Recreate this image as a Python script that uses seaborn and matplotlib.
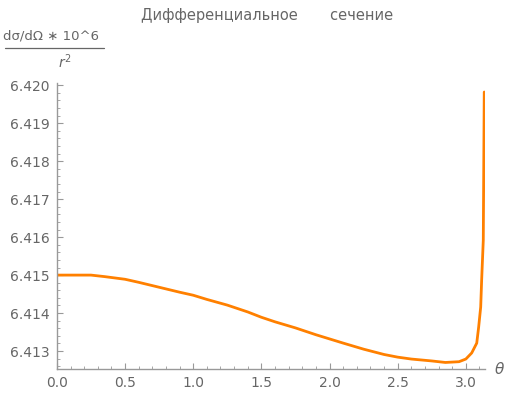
import matplotlib
matplotlib.use("Agg")
import matplotlib.pyplot as plt
import seaborn as sns
import pandas as pd
from matplotlib.ticker import MultipleLocator

# values
theta = [0.0, 0.1, 0.2, 0.25, 0.35, 0.5, 0.6, 0.75, 0.9, 1.0, 1.1, 1.25,
         1.4, 1.5, 1.6, 1.75, 1.9, 2.0, 2.1, 2.25, 2.4, 2.5, 2.6, 2.75,
         2.85, 2.95, 3.0, 3.043, 3.08, 3.094, 3.109, 3.116, 3.128, 3.135]
sigma = [6.41500, 6.41500, 6.41500, 6.41500, 6.41496, 6.41489, 6.41481,
         6.41468, 6.41455, 6.41447, 6.41436, 6.41421, 6.41403, 6.41389,
         6.41377, 6.41361, 6.41343, 6.41332, 6.41321, 6.41305, 6.41291,
         6.41284, 6.41279, 6.41274, 6.41270, 6.41272, 6.41279, 6.41295,
         6.41321, 6.41363, 6.41416, 6.41487, 6.41592, 6.41982]

df = pd.DataFrame({"theta": theta, "sigma": sigma})

sns.set_style("ticks")
plt.rcParams["font.family"] = ["DejaVu Sans"]

grey = "#666666"
fig = plt.figure(figsize=(5.08, 3.96), dpi=100)
ax = fig.add_axes([0.112, 0.068, 0.843, 0.722])

sns.lineplot(data=df, x="theta", y="sigma", color="#ff8000", linewidth=2.0, ax=ax)

ax.set_xlim(0, 3.1416)
ax.set_ylim(6.412526, 6.420053)
ax.xaxis.set_major_locator(MultipleLocator(0.5))
ax.xaxis.set_minor_locator(MultipleLocator(0.1))
ax.yaxis.set_major_locator(MultipleLocator(0.001))
ax.yaxis.set_minor_locator(MultipleLocator(0.0002))
ax.xaxis.set_major_formatter(matplotlib.ticker.FormatStrFormatter("%.1f"))
ax.yaxis.set_major_formatter(matplotlib.ticker.FormatStrFormatter("%.3f"))

for s in ["top", "right"]:
    ax.spines[s].set_visible(False)
for s in ["left", "bottom"]:
    ax.spines[s].set_color("#999999")
    ax.spines[s].set_linewidth(1.0)

ax.tick_params(which="major", direction="in", length=4, width=0.8,
               color="#999999", labelcolor=grey, labelsize=10, pad=5)
ax.tick_params(which="minor", direction="in", length=2, width=0.6, color="#999999")
ax.set_xlabel("")
ax.set_ylabel("")

fig.text(0.525, 0.962, "Дифференциальное       сечение", ha="center", va="center",
         color=grey, fontsize=10.5)

# fraction-style y label
fig.text(0.1, 0.908, "dσ/dΩ ∗ 10^6", ha="center", va="center", color=grey, fontsize=9.5)
fig.add_artist(plt.Line2D([0.01, 0.205], [0.88, 0.88], color=grey, linewidth=0.9,
                          transform=fig.transFigure))
fig.text(0.128, 0.843, "$r^2$", ha="center", va="center", color=grey, fontsize=10)

fig.text(0.993, 0.068, "θ", ha="right", va="center", color=grey, fontsize=11,
         style="italic")

fig.savefig("out.png", dpi=100)
